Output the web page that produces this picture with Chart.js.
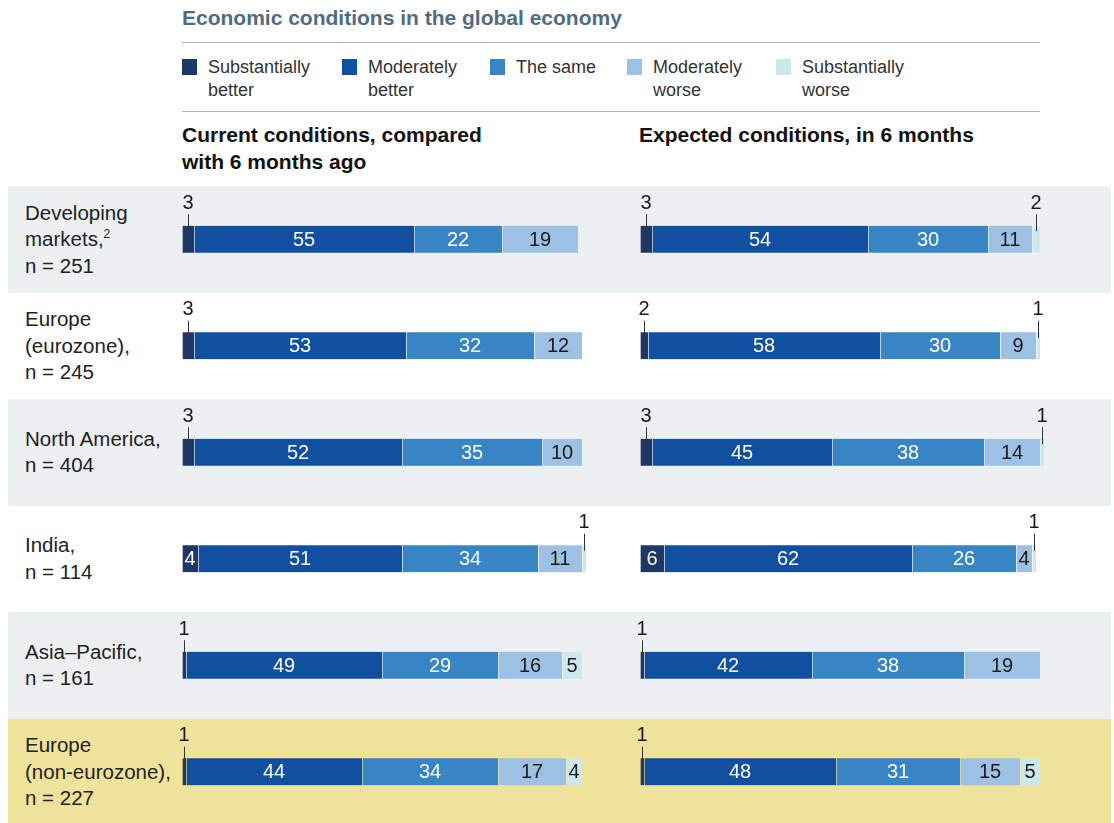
<!DOCTYPE html>
<html>
<head>
<meta charset="utf-8">
<script src="https://cdn.jsdelivr.net/npm/chart.js@4"></script>
<style>
  body { margin: 0; width: 1114px; height: 823px; overflow: hidden; background: #fff;
         font-family: "Liberation Sans", Arial, sans-serif; color: #222; position: relative; }
  .abs { position: absolute; }
  #title { left: 182px; top: 6px; font-size: 21px; font-weight: bold; color: #4f6d82; }
  .rule { left: 182px; width: 858px; height: 1px; background: #b4b4b4; }
  .leg { top: 56px; font-size: 18px; line-height: 23px; color: #333; }
  .leg i { position: absolute; left: 0; top: 3px; width: 15px; height: 16px; }
  .leg span { position: absolute; left: 26px; top: 0; white-space: nowrap; }
  .head { top: 121px; font-size: 21px; font-weight: bold; line-height: 27px; color: #111; }
  .band { left: 8px; width: 1103px; }
  .rowlab { position: absolute; left: 17px; top: 0; bottom: 0; display: flex; align-items: center;
            font-size: 20.5px; line-height: 26.5px; color: #222; }
  .rowlab sup { font-size: 12px; vertical-align: 8px; line-height: 0; }
  canvas { position: absolute; top: 186px; }
</style>
</head>
<body>
<div id="title" class="abs">Economic conditions in the global economy</div>
<div class="abs rule" style="top:42px"></div>
<div class="abs rule" style="top:111px"></div>
<div id="legend"></div>
<div class="abs head" style="left:182px">Current conditions, compared<br>with 6 months ago</div>
<div class="abs head" style="left:639px">Expected conditions, in 6 months</div>
<div id="bands"></div>
<canvas id="cur" width="430" height="639" style="left:170px"></canvas>
<canvas id="exp" width="440" height="639" style="left:628px"></canvas>
<script>
// data
var regions = ["Developing markets", "Europe (eurozone)", "North America", "India", "Asia–Pacific", "Europe (non-eurozone)"];
var regionLines = [
  ["Developing", "markets,<sup>2</sup>", "n = 251"],
  ["Europe", "(eurozone),", "n = 245"],
  ["North America,", "n = 404"],
  ["India,", "n = 114"],
  ["Asia–Pacific,", "n = 161"],
  ["Europe", "(non-eurozone),", "n = 227"]
];
var seriesNames = ["Substantially better", "Moderately better", "The same", "Moderately worse", "Substantially worse"];
var legendLines = [["Substantially", "better"], ["Moderately", "better"], ["The same"], ["Moderately", "worse"], ["Substantially", "worse"]];

var subBetterNow = [3, 3, 3, 4, 1, 1];
var modBetterNow = [55, 53, 52, 51, 49, 44];
var sameNow = [22, 32, 35, 34, 29, 34];
var modWorseNow = [19, 12, 10, 11, 16, 17];
var subWorseNow = [null, null, null, 1, 5, 4];

var subBetterNext = [3, 2, 3, 6, 1, 1];
var modBetterNext = [54, 58, 45, 62, 42, 48];
var sameNext = [30, 30, 38, 26, 38, 31];
var modWorseNext = [11, 9, 14, 4, 19, 15];
var subWorseNext = [2, 1, 1, 1, null, 5];

// styles / layout
var colors = ["#1d3866", "#1150a1", "#3885c5", "#9dc1e4", "#cce8ec"];
var textColors = ["#fff", "#fff", "#fff", "#1a1a1a", "#1a1a1a"];
var rowBg = ["#edf0f1", "#ffffff", "#edf0f1", "#ffffff", "#edf0f1", "#efe29b"];
var legendLeft = [182, 342, 490, 627, 776];
var rowTop = 186, rowH = 106.5;

// legend
var legHtml = "";
for (var i = 0; i < seriesNames.length; i++) {
  legHtml += '<div class="abs leg" style="left:' + legendLeft[i] + 'px"><i style="background:' + colors[i] + '"></i><span>' +
    legendLines[i].join("<br>") + "</span></div>";
}
document.getElementById("legend").innerHTML = legHtml;

// row bands + labels
var bandHtml = "";
for (var r = 0; r < regions.length; r++) {
  bandHtml += '<div class="abs band" style="top:' + (rowTop + r * rowH) + "px;height:" + rowH + "px;background:" + rowBg[r] +
    '"><div class="rowlab"><div>' + regionLines[r].join("<br>") + "</div></div></div>";
}
document.getElementById("bands").innerHTML = bandHtml;

var barLabels = {
  id: "barLabels",
  afterDatasetsDraw: function (chart) {
    var ctx = chart.ctx;
    ctx.save();
    ctx.font = '20px "Liberation Sans", Arial, sans-serif';
    ctx.textAlign = "center";
    ctx.textBaseline = "middle";
    chart.data.datasets.forEach(function (ds, di) {
      chart.getDatasetMeta(di).data.forEach(function (bar, i) {
        var v = ds.data[i];
        if (v == null || v === 0) return;
        var cx = (bar.x + bar.base) / 2;
        if (v >= 4) {
          ctx.fillStyle = textColors[di];
          ctx.fillText(String(v), cx, bar.y + 1);
        } else {
          ctx.strokeStyle = "#333";
          ctx.lineWidth = 1;
          ctx.beginPath();
          ctx.moveTo(Math.round(cx) + 0.5, bar.y - 25);
          ctx.lineTo(Math.round(cx) + 0.5, bar.y - 8);
          ctx.stroke();
          ctx.fillStyle = "#1a1a1a";
          ctx.fillText(String(v), cx, bar.y - 36);
        }
      });
    });
    ctx.restore();
  }
};

function drawPanel(id, values, padRight) {
  var ctx = document.getElementById(id).getContext("2d");
  return new Chart(ctx, {
    type: "bar",
    data: {
      labels: regions,
      datasets: values.map(function (vals, k) {
        return {
          label: seriesNames[k],
          data: vals,
          backgroundColor: colors[k],
          borderColor: function (c) { return rowBg[c.dataIndex]; },
          borderWidth: { left: 1, right: 0, top: 0, bottom: 0 },
          borderSkipped: false,
          barThickness: 27,
          clip: false
        };
      })
    },
    options: {
      indexAxis: "y",
      responsive: false,
      animation: false,
      layout: { padding: { left: 12, right: padRight, top: 0, bottom: 0 } },
      scales: {
        x: { stacked: true, min: 0, max: 100, display: false },
        y: { stacked: true, display: false, offset: true }
      },
      plugins: { legend: { display: false }, tooltip: { enabled: false } }
    },
    plugins: [barLabels]
  });
}

drawPanel("cur", [subBetterNow, modBetterNow, sameNow, modWorseNow, subWorseNow], 18);
drawPanel("exp", [subBetterNext, modBetterNext, sameNext, modWorseNext, subWorseNext], 28);
</script>
</body>
</html>
